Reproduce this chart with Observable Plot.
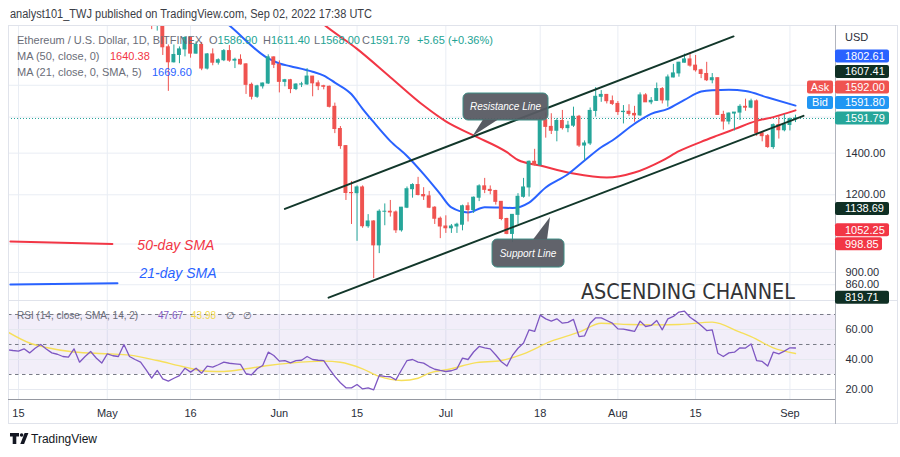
<!DOCTYPE html>
<html><head><meta charset="utf-8">
<script src="https://cdn.jsdelivr.net/npm/d3@7"></script>
<script src="https://cdn.jsdelivr.net/npm/@observablehq/plot@0.6"></script>
<style>
html,body{margin:0;padding:0;background:#fff;}
#wrap{position:relative;width:900px;height:457px;overflow:hidden;font-family:"Liberation Sans",Arial,sans-serif;background:#fff;}
</style></head><body><div id="wrap"></div>
<script>
// ---------- DATA ----------
const candleStart = "2022-05-08"; // daily candles, ETH/USD Bitfinex
const opens = [
 2636,2517,2245,2343,2072,1960,2014,2056,2145,2024,2090,1915,2018,1957,1975,2043,1972,1978,1945,1803,1725,1793,1812,1996,
 1942,1823,1834,1775,1805,1806,1859,1813,1794,1790,1662,1531,1437,1208,1207,1233,1068,1087,995,1127,1127,1124,1052,1144,1225,1244,1199,1193,1144,1098,
 1067,1060,1067,1074,1150,1134,1187,1238,1222,1217,1169,1097,1038,1114,1191,1233,1356,1339,1582,1543,1521,1577,1536,1550,1602,1440,1451,1637,1725,1737,1697,
 1680,1630,1632,1619,1610,1734,1690,1699,1775,1702,1853,1881,1957,1981,1936,1903,1877,1834,1848,1613,1574,1621,1627,1662,1657,1696,1507,1491,1432,1553,1524,
 1554,1586.9];
const highs = [
 2645,2520,2450,2450,2090,2090,2075,2155,2150,2115,2110,2025,2060,1985,2055,2085,1990,2015,1950,1815,1800,1815,2015,2000,
 1970,1840,1840,1810,1820,1915,1860,1830,1800,1795,1685,1545,1440,1260,1240,1240,1115,1090,1135,1160,1175,1130,1145,1235,1250,1280,1232,1215,1148,1105,
 1110,1075,1080,1155,1165,1190,1245,1275,1240,1220,1170,1100,1115,1205,1275,1360,1420,1600,1625,1620,1590,1640,1575,1660,1610,1465,1655,1785,1765,1740,1730,
 1695,1670,1675,1665,1750,1745,1720,1815,1785,1870,1945,1960,2020,2030,2010,1910,1960,1880,1850,1635,1625,1627,1675,1710,1710,1705,1515,1500,1560,1605,1615,
 1595,1611.4];
const lows = [
 2496,2212,2200,2010,1760,1955,1950,2000,1990,2020,1900,1905,1935,1940,1965,1960,1915,1940,1740,1705,1715,1775,1805,1915,
 1750,1790,1745,1765,1785,1800,1725,1765,1770,1655,1505,1420,1175,1075,1010,1060,1060,880,965,1070,1105,1040,1045,1140,1185,1195,1175,1140,1075,1020,
 1040,1040,1040,1050,1085,1120,1170,1205,1200,1155,1090,1035,1005,1075,1185,1190,1335,1335,1480,1500,1460,1525,1510,1540,1430,1360,1440,1600,1690,1680,1670,
 1610,1560,1605,1570,1605,1690,1675,1695,1680,1660,1850,1855,1955,1925,1890,1845,1825,1810,1610,1525,1555,1520,1580,1635,1650,1490,1460,1425,1420,1475,1515,
 1520,1568];
const closes = [
 2517,2245,2343,2072,1960,2014,2056,2145,2024,2090,1915,2018,1957,1975,2043,1972,1978,1945,1803,1725,1793,1812,1996,1942,
 1823,1834,1775,1805,1806,1859,1813,1794,1790,1662,1531,1437,1208,1207,1233,1068,1087,995,1127,1127,1124,1052,1144,1225,1244,1199,1193,1144,1098,1067,
 1060,1067,1074,1150,1134,1187,1238,1222,1217,1169,1097,1038,1114,1191,1233,1356,1339,1582,1543,1521,1577,1536,1550,1602,1440,1451,1637,1725,1737,1697,1680,
 1630,1632,1619,1610,1734,1690,1699,1775,1702,1853,1881,1957,1981,1936,1903,1877,1834,1848,1613,1574,1621,1627,1662,1657,1696,1507,1491,1432,1553,1524,1554,
 1586.9,1591.79];

const sma50Dates = ["2022-06-05","2022-06-09","2022-06-15","2022-06-21","2022-06-27","2022-07-01","2022-07-06","2022-07-12","2022-07-14","2022-07-18","2022-07-24","2022-07-30","2022-08-04","2022-08-09","2022-08-12","2022-08-16","2022-08-19","2022-08-22","2022-08-26","2022-08-29","2022-09-02"];
const sma50Values = [2420,2255,2060,1855,1670,1575,1495,1405,1365,1337,1298,1279,1303,1362,1410,1460,1495,1530,1578,1600,1640.38];

const sma21Dates = ["2022-05-19","2022-05-23","2022-05-30","2022-06-01","2022-06-03","2022-06-07","2022-06-09","2022-06-11","2022-06-14","2022-06-16","2022-06-18","2022-06-21","2022-06-24","2022-06-27","2022-06-30","2022-07-02","2022-07-05","2022-07-08","2022-07-13","2022-07-16","2022-07-19","2022-07-23","2022-07-26","2022-07-29","2022-07-31","2022-08-04","2022-08-07","2022-08-10","2022-08-13","2022-08-16","2022-08-18","2022-08-21","2022-08-24","2022-08-28","2022-09-02"];
const sma21Values = [2400,2246,1988,1951,1932,1893,1866,1818,1741,1650,1570,1464,1385,1295,1203,1145,1124,1146,1143,1166,1233,1295,1362,1431,1467,1561,1619,1649,1705,1759,1768,1770,1762,1720,1669.6];

const rsiStart = "2022-04-13";
const rsiValues = [
 46.5,46.0,45.6,47.1,44.4,47.5,50.0,47.0,44.4,43.5,42.0,41.6,47.1,38.2,42.0,45.3,41.0,37.6,
 43.8,42.5,42.0,50.0,42.0,40.0,38.2,33.0,27.6,32.7,27.1,25.6,27.5,29.3,34.2,31.6,34.2,30.9,35.6,34.9,36.5,38.2,37.5,37.1,36.7,30.5,29.8,33.8,36.0,44.9,42.7,
 38.9,39.3,37.8,39.3,39.5,42.0,40.0,39.5,39.3,33.8,28.7,24.5,21.1,21.1,23.3,20.4,21.1,19.8,29.3,28.7,28.5,26.4,33.0,39.3,40.0,38.2,37.6,35.3,33.5,32.7,
 32.0,32.5,33.8,40.9,40.0,45.0,48.7,47.8,47.1,43.0,38.5,35.6,42.7,47.5,51.0,59.8,58.7,69.6,67.1,65.6,67.1,64.2,64.7,66.7,55.3,55.8,64.2,67.8,67.8,66.0,64.2,
 60.4,60.2,59.5,58.7,65.6,62.0,62.7,66.0,59.8,67.1,68.7,71.6,72.2,68.2,65.6,62.7,59.3,59.8,44.2,42.0,44.4,44.9,47.8,47.6,50.4,39.3,38.7,35.6,44.9,43.8,45.6,
 47.8,47.67];
const rsiMaDates = ["2022-04-13","2022-04-17","2022-04-20","2022-04-25","2022-05-01","2022-05-05","2022-05-10","2022-05-15","2022-05-19","2022-05-22","2022-05-26","2022-05-30","2022-06-03","2022-06-09","2022-06-12","2022-06-16","2022-06-19","2022-06-23","2022-06-26","2022-06-28","2022-07-02","2022-07-06","2022-07-11","2022-07-15","2022-07-20","2022-07-25","2022-07-29","2022-08-03","2022-08-08","2022-08-12","2022-08-18","2022-08-23","2022-08-25","2022-08-29","2022-09-02"];
const rsiMaValues = [58.5,51.0,48.0,45.0,43.8,42.9,39.3,34.9,32.2,32.0,33.8,36.0,37.6,38.9,38.2,33.8,28.7,26.0,27.5,30.9,33.8,37.6,39.3,43.8,52.2,58.2,64.2,63.3,63.1,63.3,64.9,58.2,55.3,47.8,43.98];

const xTickDates = ["2022-04-15","2022-05-01","2022-05-16","2022-06-01","2022-06-15","2022-07-01","2022-07-18","2022-08-01","2022-08-15","2022-09-01"];
const xTickLabels = ["15","May","16","Jun","15","Jul","18","Aug","15","Sep"];
const priceGrid = [1800,1600,1400,1200,1000,900,860];
const priceTickLabels = [1400,1200,900,860]; // the others sit under price badges
const rsiTicks = [20,40,60];
const rsiLevels = [70,50,30];
const rsiBand = [30,70];

// drawings on the chart (time / price anchored)
const upperChannelDates = ["2022-06-02T00:00Z","2022-08-21T20:00Z"];
const upperChannelPrices = [1138.69,2157];
const lowerChannelDates = ["2022-06-09T21:00Z","2022-09-03T10:30Z"];
const lowerChannelPrices = [819.71,1607.41];
const keyLabels = ["50-day SMA","21-day SMA"];
const keyLineDates = [["2022-04-13T13:00Z","2022-05-01T22:00Z"],["2022-04-13T13:00Z","2022-05-02T20:00Z"]];
const keyLinePrices = [[1009,1000],[861,865]];
const keyTextDates = ["2022-05-06T10:00Z","2022-05-06T19:00Z"];
const keyTextPrices = [995,896.5];
const calloutLabels = ["Resistance Line","Support Line"];
const calloutDates = ["2022-07-05T21:30Z","2022-07-19T20:40Z"];
const calloutPrices = [1489,1103];
const titleText = "ASCENDING CHANNEL";
const titleDate = "2022-07-25T10:30Z";
const titlePrice = 814; // baseline

const stackedBadges = ["1802.61","1607.41","1592.00","1591.80","1591.79"];
const stackedColors = ["#2962ff","#0f2f24","#ef5350","#2196f3","#26a69a"];
const stackedTags = ["","","Ask","Bid",""];
const levelBadges = [1138.69,1052.25,998.85,819.71];
const levelColors = ["#0f2f24","#f23645","#f23645","#0f2f24"];
const lastPrice = 1591.79;

// ---------- BUILD ----------
const DAY = 864e5;
const UP = "#26a69a", DOWN = "#ef5350";
const candles = closes.map((c,i)=>({date:new Date(Date.parse(candleStart)+i*DAY),open:opens[i],high:highs[i],low:lows[i],close:c}));
const rsi = rsiValues.map((v,i)=>({date:new Date(Date.parse(rsiStart)+i*DAY),v}));
const rsiMa = rsiMaDates.map((d,i)=>({date:new Date(d),v:rsiMaValues[i]}));
const sma50 = sma50Dates.map((d,i)=>({date:new Date(d),v:sma50Values[i]}));
const sma21 = sma21Dates.map((d,i)=>({date:new Date(d),v:sma21Values[i]}));
const xTicks = xTickDates.map(d=>new Date(d));
const upper = upperChannelDates.map((d,i)=>({date:new Date(d),v:upperChannelPrices[i]}));
const lower = lowerChannelDates.map((d,i)=>({date:new Date(d),v:lowerChannelPrices[i]}));
const keyLines = keyLabels.map((k,j)=>keyLineDates[j].map((d,i)=>({date:new Date(d),v:keyLinePrices[j][i],k})));
const keyTexts = keyLabels.map((k,j)=>({date:new Date(keyTextDates[j]),v:keyTextPrices[j],k}));
const keyColor = {"50-day SMA":"#f23645","21-day SMA":"#2962ff"};

const xDomain = [new Date("2022-04-13T04:46Z"), new Date("2022-09-09T05:02Z")];
const FONT = "'Liberation Sans', Arial, sans-serif";
const wrap = document.getElementById("wrap");

const main = Plot.plot({
  width: 900, height: 275, marginLeft: 8, marginRight: 65, marginTop: 0, marginBottom: 0,
  style: {fontFamily: FONT, fontSize: "11px", color: "#2a2e39", background: "transparent", overflow: "visible"},
  x: {type: "utc", domain: xDomain, axis: null},
  y: {type: "log", domain: [811.2, 2246.2], axis: "right", ticks: priceTickLabels, tickFormat: d => d.toFixed(2), tickSize: 0, tickPadding: 10, label: null},
  marks: [
    Plot.gridX(xTicks, {stroke: "#e9edf4", strokeOpacity: 1}),
    Plot.gridY(priceGrid, {stroke: "#e9edf4", strokeOpacity: 1}),
    Plot.ruleY([lastPrice], {stroke: UP, strokeDasharray: "1,2", strokeWidth: 1}),
    Plot.line(sma50, {x: "date", y: "v", stroke: "#f23645", strokeWidth: 2, curve: "monotone-x", clip: true}),
    Plot.line(sma21, {x: "date", y: "v", stroke: "#2962ff", strokeWidth: 2, curve: "monotone-x", clip: true}),
    Plot.ruleX(candles, {x: "date", y1: "low", y2: "high", stroke: d => d.close >= d.open ? UP : DOWN, strokeWidth: 1, clip: true}),
    Plot.rect(candles, {x1: d => new Date(+d.date - DAY/2), x2: d => new Date(+d.date + DAY/2), y1: "open", y2: "close",
      fill: d => d.close >= d.open ? UP : DOWN, insetLeft: 0.8, insetRight: 0.8, insetTop: -0.5, insetBottom: -0.5, clip: true}),
    Plot.line(upper, {x: "date", y: "v", stroke: "#12372a", strokeWidth: 2}),
    Plot.line(lower, {x: "date", y: "v", stroke: "#12372a", strokeWidth: 2}),
    ...keyLines.map(l => Plot.line(l, {x: "date", y: "v", stroke: keyColor[l[0].k], strokeWidth: 2})),
    Plot.text(keyTexts, {x: "date", y: "v", text: "k", fill: d => keyColor[d.k], fontSize: 14, fontStyle: "italic", textAnchor: "start"})
  ]
});
main.style.position = "absolute"; main.style.left = "0px"; main.style.top = "25px";
wrap.appendChild(main);

const rsiPlot = Plot.plot({
  width: 900, height: 125, marginLeft: 8, marginRight: 65, marginTop: 0, marginBottom: 26,
  style: {fontFamily: FONT, fontSize: "11px", color: "#2a2e39", background: "transparent", overflow: "visible"},
  x: {type: "utc", domain: xDomain, ticks: xTicks, tickFormat: (d, i) => xTickLabels[i], tickSize: 0, tickPadding: 10, label: null},
  y: {domain: [13.33, 79.33], axis: "right", ticks: rsiTicks, tickFormat: d => d.toFixed(2), tickSize: 0, tickPadding: 10, label: null},
  marks: [
    Plot.gridX(xTicks, {stroke: "#e9edf4", strokeOpacity: 1}),
    Plot.rect([rsiBand], {x1: () => xDomain[0], x2: () => xDomain[1], y1: d => d[0], y2: d => d[1], fill: "#7e57c2", fillOpacity: 0.1}),
    Plot.gridY(rsiTicks, {stroke: "#e6e9f0", strokeOpacity: 1}),
    Plot.ruleY(rsiLevels, {stroke: "#787b86", strokeDasharray: "3.5,3.5", strokeWidth: 1}),
    Plot.line(rsiMa, {x: "date", y: "v", stroke: "#f6df5a", strokeWidth: 1.4, curve: "monotone-x", clip: true}),
    Plot.line(rsi, {x: "date", y: "v", stroke: "#7e57c2", strokeWidth: 1.3, clip: true})
  ]
});
rsiPlot.style.position = "absolute"; rsiPlot.style.left = "0px"; rsiPlot.style.top = "300px";
wrap.appendChild(rsiPlot);

// ---------- overlay: chrome, legends, badges, callouts ----------
const xs = main.scale("x"), ys = main.scale("y");
const PX = d => xs.apply(new Date(d));
const PY = v => ys.apply(v) + 25;

const svg = d3.create("svg").attr("width", 900).attr("height", 457)
  .style("position", "absolute").style("left", "0px").style("top", "0px").style("font-family", FONT);
wrap.appendChild(svg.node());

// frame
svg.append("rect").attr("x", 8.5).attr("y", 25.5).attr("width", 889).attr("height", 398).attr("fill", "none").attr("stroke", "#e0e3eb");
svg.append("line").attr("x1", 8).attr("x2", 898).attr("y1", 300.5).attr("y2", 300.5).attr("stroke", "#e0e3eb");
svg.append("line").attr("x1", 8).attr("x2", 835).attr("y1", 399.5).attr("y2", 399.5).attr("stroke", "#9598a1");
svg.append("line").attr("x1", 835.5).attr("x2", 835.5).attr("y1", 25).attr("y2", 424).attr("stroke", "#b2b5be");

function txt(x, y, s, o = {}) {
  const t = svg.append("text").attr("x", x).attr("y", y).attr("font-size", o.size || 11).attr("fill", o.fill || "#6a6d78").text(s);
  if (o.anchor) t.attr("text-anchor", o.anchor);
  if (o.style) t.attr("font-style", o.style);
  if (o.len) t.attr("textLength", o.len).attr("lengthAdjust", "spacingAndGlyphs");
  if (o.family) t.attr("font-family", o.family);
  return t;
}
// channel title (anchored to time/price)
txt(PX(titleDate), PY(titlePrice), titleText, {size: 22, fill: "#333436", len: 214,
  family: "'DejaVu Sans Condensed', 'Liberation Sans', sans-serif"});
// header
txt(10, 18, "analyst101_TWJ published on TradingView.com, Sep 02, 2022 17:38 UTC", {size: 12, fill: "#3a3d45", len: 362});
// price legend
const TEAL = "#22a393";
txt(17, 44, "Ethereum / U.S. Dollar, 1D, BITFINEX");
[["O","1586.90",209],["H","1611.40",263],["L","1568.00",314],["C","1591.79",362]].forEach(([k,v,x]) => {
  const t = txt(x, 44, "");
  t.append("tspan").text(k);
  t.append("tspan").attr("fill", TEAL).text(v);
});
txt(417, 44, "+5.65 (+0.36%)", {fill: TEAL});
txt(17, 60, "MA (50, close, 0)");
txt(110, 60, "1640.38", {fill: "#f23645"});
txt(17, 76, "MA (21, close, 0, SMA, 5)");
txt(152, 76, "1669.60", {fill: "#2962ff"});
// rsi legend
txt(17, 318.5, "RSI (14, close, SMA, 14, 2)", {size: 10});
txt(158, 318.5, "47.67", {size: 10, fill: "#7e57c2"});
txt(191, 318.5, "43.98", {size: 10, fill: "#f2d94a"});
txt(226, 318.5, "\u2205", {size: 10});
txt(243, 318.5, "\u2205", {size: 10});
// axis unit
txt(845, 41, "USD", {fill: "#2a2e39"});

// badges
function badge(y, label, color, w) {
  svg.append("rect").attr("x", 835).attr("y", y - 6.5).attr("width", w || 54).attr("height", 13).attr("rx", 2).attr("fill", color);
  txt(845, y + 4, label, {fill: "#fff"});
}
const yLast = PY(lastPrice);
stackedBadges.forEach((b, i) => {
  const y = yLast - (stackedBadges.length - 1 - i) * 15.5;
  badge(y, b, stackedColors[i]);
  if (stackedTags[i]) {
    svg.append("rect").attr("x", 807).attr("y", y - 6.5).attr("width", 26).attr("height", 13).attr("rx", 2).attr("fill", stackedColors[i]);
    txt(820, y + 4, stackedTags[i], {fill: "#fff", anchor: "middle"});
  }
});
levelBadges.forEach((v, i) => badge(PY(v), v.toFixed(2), levelColors[i], v < 1000 && v > 900 ? 47 : 54));

// callouts
const calloutGeom = [
  {box: [-9.5, -43, 85, 27], tail: [[10.5, -16.5], [25.5, -16.5]]},
  {box: [-58, 22, 72, 28], tail: [[-17, 22.5], [-3, 22.5]]}
];
calloutLabels.forEach((lab, i) => {
  const tx = PX(calloutDates[i]), ty = PY(calloutPrices[i]);
  const g = calloutGeom[i];
  const [bx, by, bw, bh] = g.box;
  svg.append("rect").attr("x", tx + bx).attr("y", ty + by).attr("width", bw).attr("height", bh).attr("rx", 5)
    .attr("fill", "#585b63").attr("fill-opacity", 0.95).attr("stroke", "#3f8e86").attr("stroke-width", 1);
  svg.append("path").attr("d", `M${tx + g.tail[0][0]},${ty + g.tail[0][1]} L${tx},${ty} L${tx + g.tail[1][0]},${ty + g.tail[1][1]} Z`)
    .attr("fill", "#585b63");
  txt(tx + bx + bw / 2, ty + by + bh / 2 + 3.5, lab, {fill: "#fff", size: 10, anchor: "middle", style: "italic"});
});

// TradingView logo
svg.append("path").attr("d", "M10,433 h9 v3.6 h-2.7 v7.4 h-3.6 v-7.4 h-2.7 Z M24.6,433 h3.8 l-4.3,11 h-3.8 Z").attr("fill", "#131722");
svg.append("circle").attr("cx", 21.6).attr("cy", 435).attr("r", 1.8).attr("fill", "#131722");
txt(31, 443, "TradingView", {size: 12, fill: "#131722"});
</script></body></html>
